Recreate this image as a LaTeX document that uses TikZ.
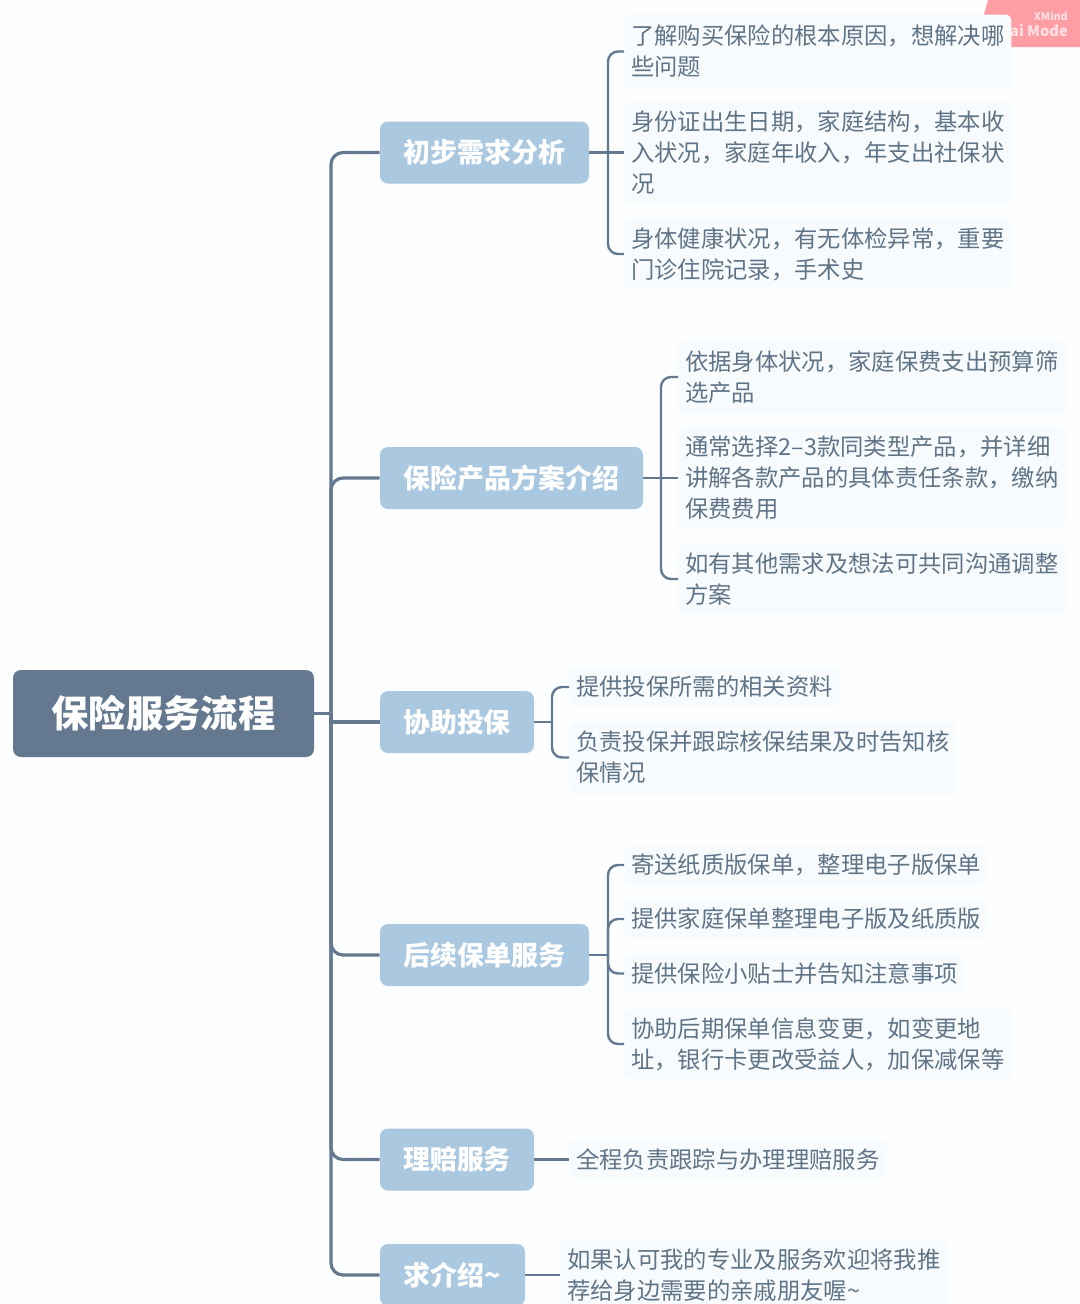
\documentclass[tikz,border=0pt]{standalone}
\usepackage{fontspec}
\setmainfont{Noto Sans CJK SC}
\newlength\pxu
\setlength\pxu{0.75pt}
\definecolor{pagebg}{HTML}{FCFEFF}
\definecolor{leafbg}{HTML}{F8FBFD}
\definecolor{leaftx}{HTML}{607487}
\definecolor{midbg}{HTML}{ABC8E1}
\definecolor{rootbg}{HTML}{64798F}
\definecolor{linec}{HTML}{64798F}
\definecolor{pink}{HTML}{FF9DA5}
\tikzset{
  rootbox/.style={fill=rootbg,rounded corners=8\pxu,text=white,font=\bfseries\fontsize{28}{34}\selectfont,inner sep=0pt,minimum width=301\pxu,minimum height=87\pxu},
  midbox/.style={fill=midbg,rounded corners=8\pxu,text=white,font=\bfseries\fontsize{20.2}{26}\selectfont,inner sep=0pt,minimum height=62\pxu},
  leafbox/.style={fill=leafbg,rounded corners=6\pxu,text=leaftx,font=\fontsize{17.5}{23.25}\selectfont,align=left,inner xsep=7\pxu,inner ysep=0pt,anchor=west},
  trunk/.style={draw=linec,line width=3.2\pxu,rounded corners=12\pxu},
  twig/.style={draw=linec,line width=2.4\pxu,rounded corners=10\pxu}
}
\begin{document}
\begin{tikzpicture}[x=0.75pt,y=-0.75pt]
\useasboundingbox (0,0) rectangle (1080,1304);
\fill[pagebg] (0,0) rectangle (1080,1304);
% watermark
\fill[pink] (988,0) -- (1080,0) -- (1080,47) -- (975,47) -- cycle;
\node[text=white,font=\bfseries\fontsize{8}{9}\selectfont,anchor=east,inner sep=0pt,opacity=.7] (wm1) at (1068,16) {XMind};
\node[text=white,font=\bfseries\fontsize{11}{12}\selectfont,anchor=east,inner sep=0pt,opacity=.7] (wm2) at (1068,31) {ai Mode};
% root and main topics
\node[rootbox] (root) at (163.5,713.5) {保险服务流程};
\node[midbox,minimum width=209\pxu] (m1) at (484.5,152.5) {初步需求分析};
\node[midbox,minimum width=263\pxu] (m2) at (511.5,478) {保险产品方案介绍};
\node[midbox,minimum width=154\pxu] (m3) at (457,722) {协助投保};
\node[midbox,minimum width=209\pxu] (m4) at (484.5,955) {后续保单服务};
\node[midbox,minimum width=154\pxu] (m5) at (457,1159.5) {理赔服务};
\node[midbox,minimum width=145\pxu] (m6) at (452.5,1275) {求介绍\char"007E};
% leaves
\node[leafbox,text width=373\pxu,minimum height=74\pxu] (a1) at (624,51.5) {了解购买保险的根本原因，想解决哪\\些问题};
\node[leafbox,text width=373\pxu,minimum height=101\pxu] (a2) at (624,152.5) {身份证出生日期，家庭结构，基本收\\入状况，家庭年收入，年支出社保状\\况};
\node[leafbox,text width=373\pxu,minimum height=70\pxu] (a3) at (624,254) {身体健康状况，有无体检异常，重要\\门诊住院记录，手术史};
\node[leafbox,text width=373\pxu,minimum height=73\pxu] (b1) at (678,377) {依据身体状况，家庭保费支出预算筛\\选产品};
\node[leafbox,text width=373\pxu,minimum height=102\pxu] (b2) at (678,478) {通常选择2–3款同类型产品，并详细\\讲解各款产品的具体责任条款，缴纳\\保费费用};
\node[leafbox,text width=373\pxu,minimum height=70\pxu] (b3) at (678,579) {如有其他需求及想法可共同沟通调整\\方案};
\node[leafbox,text width=256\pxu,minimum height=38\pxu] (c1) at (569,687) {提供投保所需的相关资料};
\node[leafbox,text width=373\pxu,minimum height=72\pxu] (c2) at (569,757.5) {负责投保并跟踪核保结果及时告知核\\保情况};
\node[leafbox,text width=347\pxu,minimum height=38\pxu] (d1) at (624,865) {寄送纸质版保单，整理电子版保单};
\node[leafbox,text width=347\pxu,minimum height=38\pxu] (d2) at (624,919) {提供家庭保单整理电子版及纸质版};
\node[leafbox,text width=325\pxu,minimum height=38\pxu] (d3) at (624,973.5) {提供保险小贴士并告知注意事项};
\node[leafbox,text width=373\pxu,minimum height=70\pxu] (d4) at (624,1044) {协助后期保单信息变更，如变更地\\址，银行卡更改受益人，加保减保等};
\node[leafbox,text width=303\pxu,minimum height=38\pxu] (e1) at (569,1159.5) {全程负责跟踪与办理理赔服务};
\node[leafbox,text width=373\pxu,minimum height=70\pxu] (f1) at (560,1275) {如果认可我的专业及服务欢迎将我推\\荐给身边需要的亲戚朋友喔\char"007E};
% trunk connectors
\coordinate (t) at (331,713.5);
\draw[trunk] (root.east) -- (t);
\draw[trunk] (t) |- (m1.west);
\draw[trunk] (t) |- (m2.west);
\draw[trunk,rounded corners=0pt] (t) |- (m3.west);
\draw[trunk] (t) |- (m4.west);
\draw[trunk] (t) |- (m5.west);
\draw[trunk] (t) |- (m6.west);
% branch connectors
\coordinate (ja) at (608,152.5);
\draw[twig] (m1.east) -- (a2.west);
\draw[twig] (ja) |- (a1.west);
\draw[twig] (ja) |- (a3.west);
\coordinate (jb) at (661,478);
\draw[twig] (m2.east) -- (b2.west);
\draw[twig] (jb) |- (b1.west);
\draw[twig] (jb) |- (b3.west);
\coordinate (jc) at (552,722);
\draw[twig] (m3.east) -- (jc);
\draw[twig] (jc) |- (c1.west);
\draw[twig] (jc) |- (c2.west);
\coordinate (jd) at (608,955);
\draw[twig] (m4.east) -- (jd);
\draw[twig] (jd) |- (d1.west);
\draw[twig] (jd) |- (d2.west);
\draw[twig] (jd) |- (d3.west);
\draw[twig] (jd) |- (d4.west);
\draw[twig] (m5.east) -- (e1.west);
\draw[twig] (m6.east) -- (f1.west);
\end{tikzpicture}
\end{document}
